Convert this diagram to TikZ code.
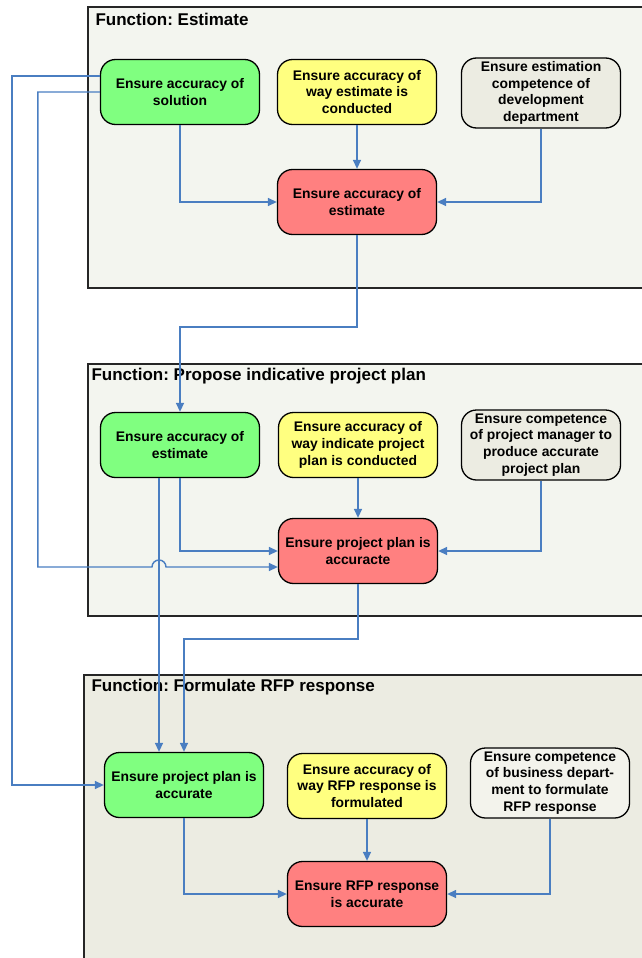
\documentclass[tikz,border=0pt]{standalone}
\usepackage{fontspec}
\setmainfont{Liberation Sans}
\usetikzlibrary{arrows.meta,positioning}
\definecolor{accgreen}{RGB}{128,255,128}
\definecolor{accyellow}{RGB}{255,255,128}
\definecolor{accred}{RGB}{255,128,128}
\definecolor{compbeige}{RGB}{236,236,226}
\definecolor{complight}{RGB}{243,243,236}
\definecolor{framelight}{RGB}{243,245,239}
\definecolor{framedark}{RGB}{236,236,226}
\definecolor{linkblue}{RGB}{74,126,193}
\frenchspacing
\tikzset{
  task/.style={draw=black, line width=1.3pt, rounded corners=15pt, minimum width=159pt,
    minimum height=65pt, align=center, inner sep=2pt,
    font=\bfseries\fontsize{13.9}{16.8}\selectfont},
  frame/.style={draw=black!85, line width=1.6pt},
  title/.style={anchor=west, font=\bfseries\fontsize{17}{20}\selectfont},
  flow/.style={draw=linkblue, line width=1.4pt, -{Triangle[length=9pt,width=8pt]}},
}
\begin{document}
\begin{tikzpicture}[x=1pt,y=-1pt]
    \useasboundingbox (0,0) rectangle (642,958);
    % Function frames
    \draw[frame, fill=framelight] (88,7) rectangle (660,288);
    \draw[frame, fill=framelight] (88,364) rectangle (660,616);
    \draw[frame, fill=framedark] (84,675) rectangle (660,975);
    \node[title] (fest) at (92,19) {Function: Estimate};
    \node[title] (fplan) at (88,376) {Function: Propose indicative project plan};
    \node[title] (frfp) at (88,687) {Function: Formulate RFP response};
    % Estimate
    \node[task, fill=accgreen] (sol) at (180,92) {Ensure accuracy of\\solution};
    \node[task, fill=accyellow] (wayest) at (357,92) {Ensure accuracy of\\way estimate is\\conducted};
    \node[task, fill=compbeige, minimum height=70pt] (devcomp) at (541,93) {Ensure estimation\\competence of\\development\\department};
    \node[task, fill=accred] (est) at (357,202) {Ensure accuracy of\\estimate};
    % Propose indicative project plan
    \node[task, fill=accgreen] (est2) at (180,445) {Ensure accuracy of\\estimate};
    \node[task, fill=accyellow] (wayplan) at (358,445) {Ensure accuracy of\\way indicate project\\plan is conducted};
    \node[task, fill=compbeige, minimum height=70pt] (pmcomp) at (541,445) {Ensure competence\\of project manager to\\produce accurate\\project plan};
    \node[task, fill=accred] (plan) at (358,551) {Ensure project plan is\\accuracte};
    % Formulate RFP response
    \node[task, fill=accgreen] (plan3) at (184,785) {Ensure project plan is\\accurate};
    \node[task, fill=accyellow] (wayrfp) at (367,786) {Ensure accuracy of\\way RFP response is\\formulated};
    \node[task, fill=complight, minimum height=70pt] (buscomp) at (550,783) {Ensure competence\\of business depart-\\ment to formulate\\RFP response};
    \node[task, fill=accred] (rfp) at (367,894) {Ensure RFP response\\is accurate};
    % Links inside the functions
    \draw[flow] (sol.south) |- (est.west);
    \draw[flow] (wayest.south) -- (est.north);
    \draw[flow] (devcomp.south) |- (est.east);
    \draw[flow] (est2.south) |- (plan.west);
    \draw[flow] (wayplan.south) -- (plan.north);
    \draw[flow] (pmcomp.south) |- (plan.east);
    \draw[flow] (plan3.south) |- (rfp.west);
    \draw[flow] (wayrfp.south) -- (rfp.north);
    \draw[flow] (buscomp.south) |- (rfp.east);
    % Links between the functions
    \draw[flow] (est.south) -- ++(0,92) -| (est2.north);
    \draw[flow] (plan.south) -- ++(0,55) -| (plan3.north);
    \draw[flow] ([xshift=-21pt]est2.south) -- ([xshift=-25pt]plan3.north);
    \draw[flow] ([yshift=16pt]sol.west) -- ++(-88,0) |- (plan3.west);
    \draw[flow] (sol.west) -- ++(-62,0) |- (152,567)
        arc[start angle=180, end angle=0, radius=7pt] -- ([yshift=-16pt]plan.west);
\end{tikzpicture}
\end{document}
